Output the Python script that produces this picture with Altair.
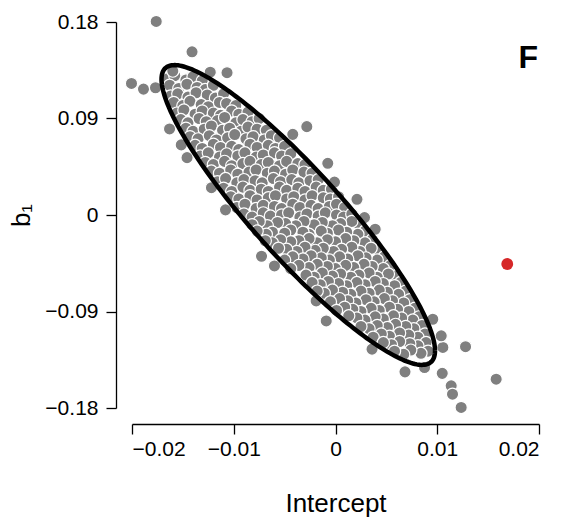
import altair as alt
import numpy as np
import pandas as pd

# ---- bootstrap / posterior cloud (Intercept, b1) ----
cloud_x = [
    # y ~ 0.128
    -0.0165, -0.0158, -0.0147, -0.0140, -0.0131,
    # y ~ 0.120
    -0.0163, -0.0154, -0.0146, -0.0136, -0.0128, -0.0120,
    # y ~ 0.112
    -0.0162, -0.0155, -0.0145, -0.0137, -0.0126, -0.0118, -0.0110,
    # y ~ 0.104
    -0.0159, -0.0150, -0.0143, -0.0132, -0.0125, -0.0114, -0.0107, -0.0098,
    # y ~ 0.096
    -0.0156, -0.0149, -0.0138, -0.0131, -0.0120, -0.0113, -0.0102, -0.0095, -0.0086,
    # y ~ 0.088
    -0.0152, -0.0145, -0.0134, -0.0127, -0.0116, -0.0109, -0.0098, -0.0091, -0.0082, -0.0075,
    # y ~ 0.080
    -0.0147, -0.0140, -0.0129, -0.0122, -0.0111, -0.0104, -0.0093, -0.0086, -0.0077, -0.0068,
    # y ~ 0.072
    -0.0143, -0.0135, -0.0124, -0.0117, -0.0106, -0.0099, -0.0088, -0.0081, -0.0070, -0.0063, -0.0055,
    # y ~ 0.064
    -0.0138, -0.0131, -0.0120, -0.0113, -0.0102, -0.0095, -0.0084, -0.0077, -0.0066, -0.0059, -0.0050,
    # y ~ 0.056
    -0.0133, -0.0125, -0.0114, -0.0107, -0.0096, -0.0089, -0.0078, -0.0071, -0.0060, -0.0053, -0.0044,
    # y ~ 0.048
    -0.0128, -0.0120, -0.0109, -0.0102, -0.0091, -0.0084, -0.0073, -0.0066, -0.0055, -0.0048, -0.0037, -0.0030,
    # y ~ 0.040
    -0.0122, -0.0114, -0.0103, -0.0096, -0.0085, -0.0078, -0.0067, -0.0060, -0.0049, -0.0042, -0.0031, -0.0023,
    # y ~ 0.032
    -0.0116, -0.0108, -0.0097, -0.0090, -0.0079, -0.0072, -0.0061, -0.0054, -0.0043, -0.0036, -0.0025, -0.0017,
    # y ~ 0.024
    -0.0110, -0.0102, -0.0091, -0.0084, -0.0073, -0.0066, -0.0055, -0.0048, -0.0037, -0.0030, -0.0019, -0.0012, -0.0004,
    # y ~ 0.016
    -0.0103, -0.0095, -0.0084, -0.0077, -0.0066, -0.0059, -0.0048, -0.0041, -0.0030, -0.0023, -0.0012, -0.0005, 0.0003,
    # y ~ 0.008
    -0.0097, -0.0089, -0.0078, -0.0071, -0.0060, -0.0053, -0.0042, -0.0035, -0.0024, -0.0017, -0.0006, 0.0001, 0.0009,
    # y ~ 0.000
    -0.0090, -0.0082, -0.0071, -0.0064, -0.0053, -0.0046, -0.0035, -0.0028, -0.0017, -0.0010, 0.0001, 0.0008, 0.0016,
    # y ~ -0.008
    0.0023, 0.0016, 0.0005, -0.0003, -0.0013, -0.0021, -0.0031, -0.0039, -0.0049, -0.0057, -0.0067, -0.0075, -0.0082,
    # y ~ -0.016
    0.0029, 0.0022, 0.0011, 0.0003, -0.0008, -0.0014, -0.0026, -0.0032, -0.0044, -0.0050, -0.0062, -0.0068, -0.0077,
    # y ~ -0.024
    0.0036, 0.0029, 0.0018, 0.0010, 0.0000, -0.0008, -0.0018, -0.0026, -0.0036, -0.0044, -0.0054, -0.0062, -0.0069,
    # y ~ -0.032
    0.0042, 0.0035, 0.0024, 0.0016, 0.0006, -0.0002, -0.0012, -0.0020, -0.0030, -0.0038, -0.0048, -0.0056,
    # y ~ -0.040
    0.0048, 0.0041, 0.0030, 0.0022, 0.0012, 0.0004, -0.0006, -0.0014, -0.0024, -0.0032, -0.0042, -0.0050,
    # y ~ -0.048
    0.0054, 0.0047, 0.0036, 0.0028, 0.0018, 0.0010, 0.0000, -0.0008, -0.0018, -0.0026, -0.0036, -0.0044,
    # y ~ -0.056
    0.0059, 0.0052, 0.0041, 0.0033, 0.0023, 0.0015, 0.0005, -0.0003, -0.0013, -0.0021, -0.0029,
    # y ~ -0.064
    0.0064, 0.0058, 0.0047, 0.0039, 0.0029, 0.0021, 0.0011, 0.0003, -0.0007, -0.0015, -0.0023,
    # y ~ -0.072
    0.0069, 0.0062, 0.0051, 0.0043, 0.0033, 0.0025, 0.0015, 0.0007, -0.0003, -0.0011, -0.0018,
    # y ~ -0.080
    0.0073, 0.0067, 0.0056, 0.0048, 0.0038, 0.0030, 0.0020, 0.0012, 0.0004, -0.0005,
    # y ~ -0.088
    0.0078, 0.0072, 0.0061, 0.0053, 0.0043, 0.0035, 0.0025, 0.0017, 0.0009, 0.0001,
    # y ~ -0.096
    0.0082, 0.0076, 0.0065, 0.0057, 0.0047, 0.0039, 0.0029, 0.0021, 0.0013,
    # y ~ -0.104
    0.0085, 0.0077, 0.0069, 0.0059, 0.0051, 0.0041, 0.0033, 0.0025,
    # y ~ -0.112
    0.0088, 0.0081, 0.0072, 0.0063, 0.0053, 0.0045, 0.0037,
    # y ~ -0.120
    0.0089, 0.0081, 0.0073, 0.0063, 0.0055, 0.0047,
    # y ~ -0.128
    0.0091, 0.0084, 0.0074, 0.0067, 0.0058,
]
cloud_y = [
    0.127, 0.130, 0.126, 0.129, 0.125,
    0.121, 0.118, 0.122, 0.119, 0.117, 0.121,
    0.111, 0.113, 0.110, 0.114, 0.112, 0.109, 0.113,
    0.105, 0.102, 0.106, 0.103, 0.101, 0.105, 0.104, 0.102,
    0.095, 0.098, 0.094, 0.097, 0.095, 0.093, 0.097, 0.094, 0.096,
    0.089, 0.086, 0.090, 0.087, 0.088, 0.091, 0.086, 0.089, 0.087, 0.090,
    0.081, 0.078, 0.080, 0.083, 0.079, 0.081, 0.078, 0.082, 0.080, 0.079,
    0.073, 0.071, 0.074, 0.070, 0.072, 0.075, 0.071, 0.073, 0.070, 0.074, 0.072,
    0.065, 0.062, 0.066, 0.063, 0.064, 0.061, 0.066, 0.063, 0.065, 0.062, 0.064,
    0.055, 0.058, 0.054, 0.057, 0.055, 0.058, 0.054, 0.056, 0.058, 0.055, 0.057,
    0.049, 0.047, 0.050, 0.046, 0.048, 0.050, 0.047, 0.049, 0.046, 0.050, 0.048, 0.047,
    0.041, 0.039, 0.042, 0.038, 0.040, 0.042, 0.039, 0.041, 0.038, 0.042, 0.040, 0.039,
    0.031, 0.034, 0.030, 0.033, 0.032, 0.030, 0.034, 0.031, 0.033, 0.030, 0.032, 0.033,
    0.025, 0.022, 0.026, 0.023, 0.024, 0.022, 0.026, 0.023, 0.025, 0.022, 0.026, 0.023, 0.024,
    0.017, 0.015, 0.018, 0.014, 0.016, 0.018, 0.015, 0.017, 0.014, 0.018, 0.016, 0.015, 0.017,
    0.007, 0.010, 0.006, 0.009, 0.008, 0.006, 0.010, 0.007, 0.009, 0.006, 0.008, 0.010, 0.007,
    0.001, -0.002, 0.002, -0.001, 0.000, 0.002, -0.002, 0.001, -0.001, 0.002, 0.000, -0.002, 0.001,
    -0.009, -0.006, -0.008, -0.010, -0.007, -0.009, -0.006, -0.010, -0.008, -0.007, -0.010, -0.006, -0.009,
    -0.015, -0.018, -0.016, -0.014, -0.017, -0.015, -0.018, -0.016, -0.014, -0.017, -0.016, -0.018, -0.015,
    -0.023, -0.026, -0.024, -0.022, -0.025, -0.023, -0.026, -0.022, -0.024, -0.025, -0.023, -0.026, -0.024,
    -0.033, -0.031, -0.034, -0.030, -0.032, -0.034, -0.031, -0.033, -0.030, -0.034, -0.032, -0.031,
    -0.039, -0.042, -0.040, -0.038, -0.041, -0.039, -0.042, -0.040, -0.038, -0.041, -0.039, -0.042,
    -0.047, -0.050, -0.048, -0.046, -0.049, -0.047, -0.050, -0.048, -0.046, -0.049, -0.047, -0.050,
    -0.057, -0.055, -0.058, -0.054, -0.056, -0.058, -0.055, -0.057, -0.054, -0.058, -0.056,
    -0.063, -0.066, -0.064, -0.062, -0.065, -0.063, -0.066, -0.064, -0.062, -0.065, -0.063,
    -0.071, -0.074, -0.072, -0.070, -0.073, -0.071, -0.074, -0.072, -0.070, -0.073, -0.071,
    -0.079, -0.082, -0.080, -0.078, -0.081, -0.079, -0.082, -0.080, -0.078, -0.081,
    -0.087, -0.090, -0.088, -0.086, -0.089, -0.087, -0.090, -0.088, -0.086, -0.089,
    -0.095, -0.098, -0.096, -0.094, -0.097, -0.095, -0.098, -0.096, -0.094,
    -0.103, -0.106, -0.104, -0.102, -0.105, -0.103, -0.106, -0.104,
    -0.111, -0.114, -0.112, -0.110, -0.113, -0.111, -0.114,
    -0.119, -0.122, -0.120, -0.118, -0.121, -0.119,
    -0.127, -0.129, -0.126, -0.130, -0.127,
]

# points outside / on the ellipse edge
outlier_x = [-0.01762, -0.01410, -0.02005, -0.01887, -0.01769, -0.01066, -0.01231, -0.01599,
             -0.01631, -0.01516, -0.01459, -0.01219, -0.01081, -0.00727, -0.00600,
             -0.00282, -0.00420, -0.00076, -0.00010, 0.00211, 0.00285, 0.00390,
             -0.00190, -0.00091, 0.00359, 0.00683, 0.01049, 0.01137, 0.01150, 0.01235,
             0.01278, 0.01579, 0.01055, 0.01039, 0.00956, 0.00875]
outlier_y = [0.1805, 0.1522, 0.1227, 0.1174, 0.1187, 0.1327, 0.1332, 0.1342,
             0.0803, 0.0654, 0.0535, 0.0255, 0.0048, -0.0385, -0.0475,
             0.0824, 0.0752, 0.0482, 0.0307, 0.0146, -0.0024, -0.0133,
             -0.0801, -0.0988, -0.1251, -0.1463, -0.1477, -0.1593, -0.1671, -0.1795,
             -0.1228, -0.1531, -0.1235, -0.1127, -0.0972, -0.1422]

# highlighted observation
red_x = [0.01688]
red_y = [-0.0457]

# confidence ellipse parameters (centre, half-extents, correlation)
ell_cx, ell_cy = -0.00366, 0.0
ell_rx, ell_ry = 0.01344, 0.1398
ell_rho = 0.905

panel_label = "F"
panel_label_x, panel_label_y = 0.01799, 0.1367

x_ticks = [-0.02, -0.01, 0, 0.01, 0.02]
y_ticks = [-0.18, -0.09, 0, 0.09, 0.18]

FONT = "Liberation Sans"

pts = pd.DataFrame({"x": cloud_x + outlier_x, "y": cloud_y + outlier_y})
red = pd.DataFrame({"x": red_x, "y": red_y})

t = np.linspace(0, 2 * np.pi, 241)
delta = np.arccos(ell_rho)
ell = pd.DataFrame({
    "x": ell_cx + ell_rx * np.cos(t),
    "y": ell_cy - ell_ry * np.cos(t - delta),
    "i": np.arange(len(t)),
})
lab = pd.DataFrame({"x": [panel_label_x], "y": [panel_label_y], "t": [panel_label]})

xs = alt.Scale(domain=[-0.02, 0.02], nice=False, zero=False)
ys = alt.Scale(domain=[-0.18, 0.18], nice=False, zero=False)

xenc = alt.X("x:Q", scale=xs, axis=alt.Axis(values=x_ticks, format="~g", title="Intercept",
                                          offset=16, labelPadding=4, titlePadding=31))
yenc = alt.Y("y:Q", scale=ys, axis=alt.Axis(values=y_ticks, format="~g", title="b₁",
                                          offset=16, labelPadding=8, titlePadding=10))

cloud = alt.Chart(pts).mark_circle(
    color="#7f7f7f", opacity=1, size=150, stroke="white", strokeWidth=1.2
).encode(x=xenc, y=yenc)

ellipse = alt.Chart(ell).mark_line(color="black", strokeWidth=4.5).encode(
    x="x:Q", y="y:Q", order="i:Q"
)

redpt = alt.Chart(red).mark_circle(color="#d62728", opacity=1, size=140).encode(
    x="x:Q", y="y:Q"
)

text = alt.Chart(lab).mark_text(
    align="left", baseline="alphabetic", font=FONT, fontSize=32, fontWeight="bold", color="black"
).encode(x="x:Q", y="y:Q", text="t:N")

chart = alt.layer(cloud, ellipse, redpt, text).properties(
    width=407, height=386,
    autosize=alt.AutoSizeParams(type="none"),
    padding={"left": 132, "top": 22, "right": 26, "bottom": 114},
).configure_view(stroke=None).configure_axis(
    grid=False, domainColor="black", tickColor="black", domainWidth=1.3, tickWidth=1.3,
    tickSize=10, labelFont=FONT, labelFontSize=21, labelColor="black",
    titleFont=FONT, titleFontSize=26, titleFontWeight="normal", titleColor="black",
)

chart.save("out.html", embed_options={"renderer": "svg", "actions": False})
